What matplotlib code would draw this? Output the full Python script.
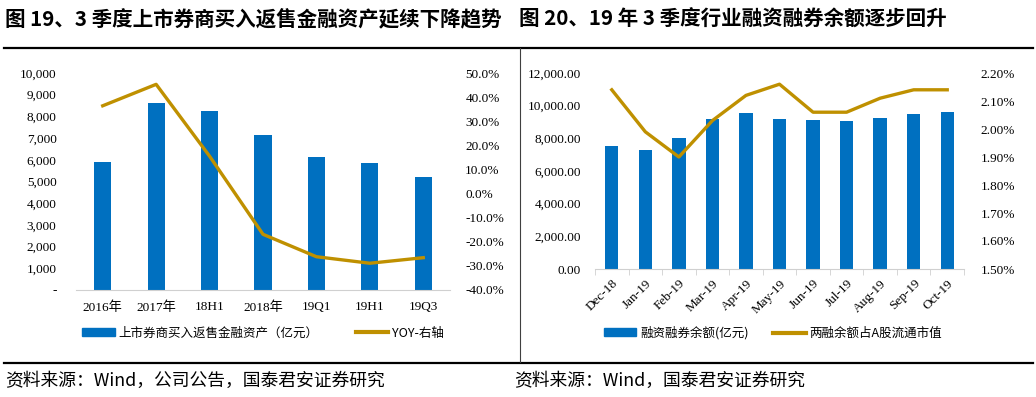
import matplotlib
matplotlib.use("Agg")
import matplotlib.pyplot as plt
from matplotlib.ticker import FuncFormatter, FixedLocator
from matplotlib.lines import Line2D
from matplotlib.patches import Patch

plt.rcParams['font.family'] = ['Liberation Serif', 'Noto Sans CJK SC', 'DejaVu Sans']

# ---- data ----
left_categories = ["2016年", "2017年", "18H1", "2018年", "19Q1", "19H1", "19Q3"]
left_assets = [5920, 8620, 8250, 7150, 6120, 5850, 5190]
left_yoy = [36.4, 45.3, 15.5, -16.9, -26.2, -28.9, -26.6]

right_categories = ["Dec-18", "Jan-19", "Feb-19", "Mar-19", "Apr-19", "May-19",
                    "Jun-19", "Jul-19", "Aug-19", "Sep-19", "Oct-19"]
right_balance = [7510, 7265, 8020, 9185, 9550, 9185, 9100, 9060, 9225, 9470, 9630]
right_ratio = [2.14, 1.99, 1.90, 2.03, 2.12, 2.16, 2.06, 2.06, 2.11, 2.14, 2.14]

title_left = "图 19、3 季度上市券商买入返售金融资产延续下降趋势"
title_right = "图 20、19 年 3 季度行业融资融券余额逐步回升"
source_left = "资料来源：Wind，公司公告，国泰君安证券研究"
source_right = "资料来源：Wind，国泰君安证券研究"
legend_left = ["上市券商买入返售金融资产（亿元）", "YOY-右轴"]
legend_right = ["融资融券余额(亿元)", "两融余额占A股流通市值"]

BLUE = "#0070C0"
GOLD = "#BF9000"
AXIS_GRAY = "#D0D0D0"
W, H = 1036, 397

fig = plt.figure(figsize=(W / 100, H / 100), dpi=100)

def fx(px):
    return px / W

def fy(py):
    return 1 - py / H

serif = ['Liberation Serif', 'Noto Sans CJK SC']
cjk = ['Noto Sans CJK SC', 'Liberation Serif']

# ---- frame lines ----
fig.add_artist(Line2D([fx(4), fx(1033)], [fy(47.5), fy(47.5)], color="black", lw=1.6))
fig.add_artist(Line2D([fx(4), fx(1033)], [fy(362.5), fy(362.5)], color="black", lw=1.6))
fig.add_artist(Line2D([fx(519.5), fx(519.5)], [fy(48), fy(362)], color="#404040", lw=0.8))

# ---- titles ----
fig.text(fx(5), fy(19), title_left, fontsize=14.8, fontweight="bold",
         family=['Noto Sans CJK SC'], va="center", ha="left")
fig.text(fx(519), fy(19), title_right, fontsize=14.8, fontweight="bold",
         family=['Noto Sans CJK SC'], va="center", ha="left")

# ---- sources ----
fig.text(fx(5), fy(381), source_left, fontsize=12.8, family=cjk, va="center", ha="left")
fig.text(fx(514), fy(381), source_right, fontsize=12.8, family=cjk, va="center", ha="left")

# ================= Left chart =================
ax1 = fig.add_axes([fx(76), fy(290), fx(450 - 76), (290 - 73) / H])
xl = list(range(len(left_categories)))
ax1.bar(xl, left_assets, width=0.32, color=BLUE, zorder=2)
ax1.set_xlim(-0.5, len(left_categories) - 0.5)
ax1.set_ylim(0, 10000)
ax1.yaxis.set_major_locator(FixedLocator(list(range(0, 10001, 1000))))
ax1.yaxis.set_major_formatter(FuncFormatter(lambda v, p: "-" if v == 0 else f"{int(v):,}"))
ax1.set_xticks(xl)
ax1.set_xticklabels(left_categories, family=serif, fontsize=9.5)
for s in ["top", "right", "left"]:
    ax1.spines[s].set_visible(False)
ax1.spines["bottom"].set_color(AXIS_GRAY)
ax1.tick_params(axis="x", length=0, pad=8)
ax1.tick_params(axis="y", length=0, pad=14, labelsize=9.5)
for t in ax1.get_yticklabels():
    t.set_family(serif)

ax1b = ax1.twinx()
ax1b.plot(xl, left_yoy, color=GOLD, lw=2.4, zorder=3)
ax1b.set_ylim(-40, 50)
ax1b.yaxis.set_major_locator(FixedLocator(list(range(-40, 51, 10))))
ax1b.yaxis.set_major_formatter(FuncFormatter(lambda v, p: f"{v:.1f}%"))
for s in ["top", "right", "left", "bottom"]:
    ax1b.spines[s].set_visible(False)
ax1b.tick_params(axis="y", length=0, pad=11, labelsize=9.5)
for t in ax1b.get_yticklabels():
    t.set_family(serif)

# ================= Right chart =================
ax2 = fig.add_axes([fx(595), fy(269), fx(964 - 595), (269 - 73) / H])
xr = list(range(len(right_categories)))
ax2.bar(xr, right_balance, width=0.4, color=BLUE, zorder=2)
ax2.set_xlim(-0.5, len(right_categories) - 0.5)
ax2.set_ylim(0, 12000)
ax2.yaxis.set_major_locator(FixedLocator(list(range(0, 12001, 2000))))
ax2.yaxis.set_major_formatter(FuncFormatter(lambda v, p: f"{v:,.2f}"))
ax2.set_xticks(xr)
ax2.set_xticklabels(right_categories, family=serif, fontsize=9.5,
                    rotation=45, ha="right", rotation_mode="anchor")
ax2.set_xticks([i - 0.5 for i in range(len(right_categories) + 1)], minor=True)
for s in ["top", "right", "left"]:
    ax2.spines[s].set_visible(False)
ax2.spines["bottom"].set_color(AXIS_GRAY)
ax2.tick_params(axis="x", which="major", length=0, pad=6)
ax2.tick_params(axis="x", which="minor", length=4, color=AXIS_GRAY, direction="out")
ax2.tick_params(axis="y", length=0, pad=10, labelsize=9.5)
for t in ax2.get_yticklabels():
    t.set_family(serif)

ax2b = ax2.twinx()
ax2b.plot(xr, right_ratio, color=GOLD, lw=2.4, zorder=3)
ax2b.set_ylim(1.5, 2.2)
ax2b.yaxis.set_major_locator(FixedLocator([1.5 + 0.1 * i for i in range(8)]))
ax2b.yaxis.set_major_formatter(FuncFormatter(lambda v, p: f"{v:.2f}%"))
for s in ["top", "right", "left", "bottom"]:
    ax2b.spines[s].set_visible(False)
ax2b.tick_params(axis="y", length=0, pad=12, labelsize=9.5)
for t in ax2b.get_yticklabels():
    t.set_family(serif)

# ---- legends ----
handles_l = [Patch(facecolor=BLUE, edgecolor=BLUE), Line2D([], [], color=GOLD, lw=3)]
leg1 = fig.legend(handles_l, legend_left, loc="center", bbox_to_anchor=(fx(263), fy(333)),
                  ncol=2, frameon=False, prop={'family': cjk, 'size': 9},
                  handlelength=2.6, handleheight=0.6, columnspacing=3.0, handletextpad=0.3)
handles_r = [Patch(facecolor=BLUE, edgecolor=BLUE), Line2D([], [], color=GOLD, lw=3)]
leg2 = fig.legend(handles_r, legend_right, loc="center", bbox_to_anchor=(fx(773), fy(333)),
                  ncol=2, frameon=False, prop={'family': cjk, 'size': 9},
                  handlelength=2.6, handleheight=0.6, columnspacing=2.0, handletextpad=0.3)

fig.savefig("out.png", dpi=100)
